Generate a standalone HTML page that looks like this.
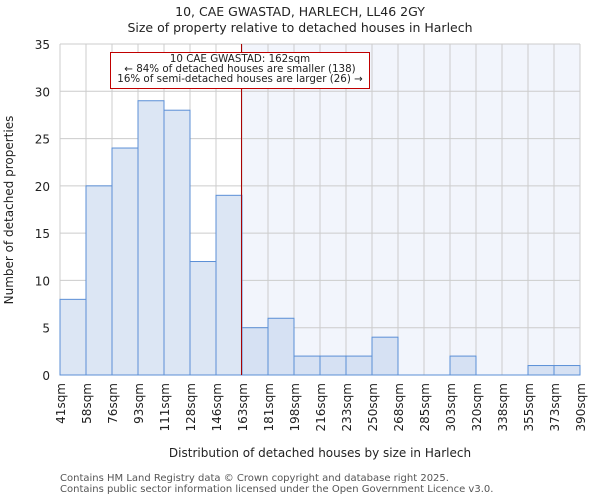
<!DOCTYPE html>
<html><head><meta charset="utf-8"><style>
body{margin:0;background:#fff;font-family:"DejaVu Sans","Liberation Sans",sans-serif;}
svg text{font-family:"DejaVu Sans","Liberation Sans",sans-serif;}
</style></head><body>
<svg id="chart" width="600" height="500" xmlns="http://www.w3.org/2000/svg">
<text x="300" y="16" text-anchor="middle" font-size="12.5" fill="#222">10, CAE GWASTAD, HARLECH, LL46 2GY</text>
<text x="300" y="32" text-anchor="middle" font-size="12.5" fill="#222">Size of property relative to detached houses in Harlech</text>
<g id="plot"></g>
<text x="320" y="457" text-anchor="middle" font-size="12" fill="#222">Distribution of detached houses by size in Harlech</text>
<text transform="translate(13,210) rotate(-90)" text-anchor="middle" font-size="12" fill="#222">Number of detached properties</text>
<text x="60" y="481" font-size="10" fill="#555">Contains HM Land Registry data © Crown copyright and database right 2025.</text>
<text x="60" y="492" font-size="10" fill="#555">Contains public sector information licensed under the Open Government Licence v3.0.</text>
</svg>
<script>
const xLabels=["41sqm","58sqm","76sqm","93sqm","111sqm","128sqm","146sqm","163sqm","181sqm","198sqm","216sqm","233sqm","250sqm","268sqm","285sqm","303sqm","320sqm","338sqm","355sqm","373sqm","390sqm"];
const counts=[8,20,24,29,28,12,19,5,6,2,2,2,4,0,0,2,0,0,1,1];
const yTicks=[0,5,10,15,20,25,30,35];
const markerIndex=7; // boundary 163sqm, property 162sqm
const markerFrac=-0.02;
const NS="http://www.w3.org/2000/svg";
const L=60,R=580,T=44,B=375,yMax=35;
const n=counts.length,bw=(R-L)/n;
const xs=i=>L+i*bw;
const ys=v=>B-(v/yMax)*(B-T);
const g=document.getElementById('plot');
function mk(t,a){const e=document.createElementNS(NS,t);for(const k in a)e.setAttribute(k,a[k]);g.appendChild(e);return e;}
const mx=xs(markerIndex+markerFrac);
let e=mk('rect',{x:mx,y:T,width:R-mx,height:B-T,fill:'#f2f5fc'});


yTicks.forEach(v=>{
  let l=mk('line',{x1:L,x2:R,y1:ys(v),y2:ys(v),stroke:'#ccc','stroke-width':1});
  
  
  let t=mk('text',{x:L-10,y:ys(v)+5,'text-anchor':'end','font-size':12,fill:'#222'});
  t.textContent=v;
  
  
});
xLabels.forEach((s,i)=>{
  let l=mk('line',{x1:xs(i),x2:xs(i),y1:T,y2:B,stroke:'#ccc','stroke-width':1});
  
  
  let t=mk('text',{transform:`translate(${xs(i)+5},${B+8}) rotate(-90)`,'text-anchor':'end','font-size':12,fill:'#222'});
  t.textContent=s;
  
  
});
counts.forEach((v,i)=>{
  if(v<=0)return;
  let r=mk('rect',{x:xs(i),y:ys(v),width:bw,height:B-ys(v),fill:i>=markerIndex?'#d6e1f3':'#dce6f4',stroke:'#5b8fd6','stroke-width':1});
  
  
});
e=mk('line',{x1:L,x2:R,y1:B,y2:B,stroke:'#5b8fd6','stroke-width':1});


e=mk('line',{x1:mx,x2:mx,y1:T,y2:B,stroke:'#aa0000','stroke-width':1});


e=mk('rect',{x:110.5,y:52.5,width:259,height:36,fill:'#fff',stroke:'#c00000','stroke-width':1});


["10 CAE GWASTAD: 162sqm","← 84% of detached houses are smaller (138)","16% of semi-detached houses are larger (26) →"].forEach((s,k)=>{
  let t=mk('text',{x:240,y:62+k*10,'text-anchor':'middle','font-size':10.3,fill:'#222'});
  t.textContent=s;
  
  
});
</script>
</body></html>
